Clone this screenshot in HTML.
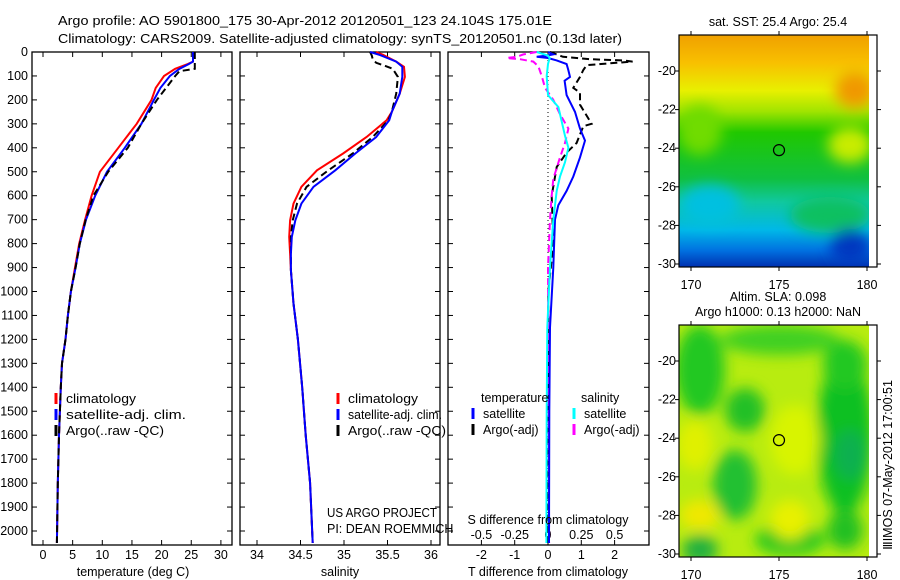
<!DOCTYPE html>
<html><head><meta charset="utf-8">
<style>
html,body{margin:0;padding:0;background:#fff;}
svg{display:block;font-family:"Liberation Sans",sans-serif;}
text{font-size:12.5px;fill:#000;}
</style></head>
<body>
<svg id="fig" width="900" height="580" viewBox="0 0 900 580">
<defs>
<filter id="blur6" x="-20%" y="-20%" width="140%" height="140%"><feGaussianBlur stdDeviation="7"/></filter>
<clipPath id="clipTop"><rect x="679" y="35" width="190" height="232"/></clipPath>
<clipPath id="clipBot"><rect x="679" y="325" width="190" height="232"/></clipPath>
<linearGradient id="sstGrad" x1="0" y1="0" x2="0" y2="1">
<stop offset="0" stop-color="#f0a000"/><stop offset="0.12" stop-color="#f8c000"/>
<stop offset="0.24" stop-color="#e8f000"/><stop offset="0.33" stop-color="#a0e400"/>
<stop offset="0.42" stop-color="#20c800"/><stop offset="0.62" stop-color="#10c040"/>
<stop offset="0.72" stop-color="#10c8a0"/><stop offset="0.84" stop-color="#00b8e8"/>
<stop offset="0.93" stop-color="#0070e0"/><stop offset="1" stop-color="#0030b0"/>
</linearGradient>
</defs>
<text x="58" y="25" textLength="494" lengthAdjust="spacingAndGlyphs">Argo profile: AO 5901800_175 30-Apr-2012 20120501_123 24.104S 175.01E</text>
<text x="58" y="43" textLength="564" lengthAdjust="spacingAndGlyphs">Climatology: CARS2009. Satellite-adjusted climatology: synTS_20120501.nc (0.13d later)</text>
<g id="plots"></g>
<g id="maps"></g>
</svg>
<script>
// ---- data ----
const depthT  = [0,40,50,70,100,150,200,300,400,500,600,700,800,900,1000,1100,1200,1300,1400,1600,1800,2050];
const tempClim = [25.3,25.3,24.4,22.3,20.4,19.0,18.3,15.8,12.7,9.6,8.2,7.1,6.1,5.4,4.7,4.2,3.8,3.2,3.0,2.7,2.5,2.35];
const tempSat  = [25.3,25.3,24.6,23.0,21.4,19.8,18.7,16.6,13.8,10.8,8.8,7.25,6.2,5.5,4.7,4.2,3.8,3.2,3.0,2.7,2.5,2.35];
const depthTA = [0,70,80,100,200,300,400,500,600,700,800,900,1000,1100,1200,1300,1400,1600,1800,2050];
const tempArgo = [25.6,25.6,23.0,22.3,19.2,16.6,14.3,11.0,8.5,7.2,6.2,5.5,4.7,4.2,3.8,3.2,3.0,2.7,2.5,2.35];

const depthS = [0,12,40,62,104,174,250,285,355,424,494,563,633,703,772,842,911,1050,1200,1400,1600,1800,2050];
const salClim = [35.37,35.45,35.6,35.69,35.7,35.64,35.55,35.49,35.26,34.99,34.69,34.51,34.42,34.38,34.37,34.38,34.39,34.42,34.47,34.52,34.56,34.61,34.64];
const salSat  = [35.3,35.41,35.6,35.67,35.67,35.64,35.55,35.52,35.37,35.13,34.9,34.65,34.51,34.44,34.40,34.39,34.39,34.42,34.47,34.52,34.56,34.61,34.64];
const depthSA = [0,15,30,45,55,70,104,174,250,285,355,424,494,563,633,703,772,842,911,1050,1200,1400,1600,1800,2050];
const salArgo = [35.3,35.32,35.33,35.37,35.45,35.56,35.62,35.6,35.55,35.51,35.33,35.1,34.82,34.57,34.46,34.41,34.39,34.39,34.39,34.42,34.47,34.52,34.56,34.61,34.64];

const depthD1 = [0,10,15,20,25,35,50,75,104,120,180,250,320,370,440,520,580,640,700,900,1150,1500,2050];
const tDiffSat = [0,0.16,-0.04,-0.34,0,0.26,0.56,0.61,0.66,0.5,0.56,0.81,0.96,1.11,0.96,0.76,0.56,0.31,0.21,0.16,0.06,0.04,0.03];
const depthD2 = [0,20,30,35,40,45,55,75,104,150,170,220,300,310,380,420,480,600,800,1000,1500,2050];
const tDiffArgo = [0.06,0.45,1.26,2.25,2.54,2.06,1.16,1.06,0.96,0.76,0.96,0.96,1.31,1.06,0.86,0.56,0.26,0.11,0.16,0.01,0.0,0.0];
const depthD3 = [0,15,25,50,100,180,230,290,350,400,460,520,580,700,900,1150,1500,2050];
const sDiffSat = [-0.085,0,0.0125,0,-0.01,0,0.078,0.103,0.128,0.153,0.128,0.09,0.065,0.04,0.015,-0.005,-0.01,-0.012];
const depthD4 = [0,10,20,25,30,40,60,100,150,200,260,320,380,440,530,600,700,900,1500,2050];
const sDiffArgo = [-0.085,-0.185,-0.235,-0.31,-0.21,-0.11,-0.072,-0.047,-0.022,0.04,0.09,0.153,0.128,0.09,0.04,0.028,0.015,0,0.005,0.008];

const depthTicks = [0,100,200,300,400,500,600,700,800,900,1000,1100,1200,1300,1400,1500,1600,1700,1800,1900,2000];
const tempTicks = [0,5,10,15,20,25,30];
const salTicks = ["34","34.5","35","35.5","36"];
const tdTicks = [-2,-1,0,1,2];
const sdTicks = ["-0.5","-0.25","0","0.25","0.5"];
const mapLon = [170,175,180];
const mapLat = [20,22,24,26,28,30];

// ---- helpers ----
const NS="http://www.w3.org/2000/svg";
const plots=document.getElementById('plots');
function mk(tag,attrs,parent,txt){const e=document.createElementNS(NS,tag);for(const k in attrs)e.setAttribute(k,attrs[k]);if(txt!==undefined)e.textContent=txt;(parent||plots).appendChild(e);return e;}
const top0=52, bot0=545;
const yD = d => top0 + d*0.2395;
const xT = v => 43 + v*5.93;
const xS = v => 257 + (v-34)*87;
const xTD = v => 548 + v*33.3;
const xSD = v => 548 + v*133.2;

function frame(x0,x1,name){
  const r=mk('rect',{x:x0,y:top0,width:x1-x0,height:bot0-top0,fill:'none',stroke:'#000','stroke-width':1.3});
  
  
  depthTicks.forEach(d=>{
    mk('line',{x1:x0,x2:x0+5,y1:yD(d),y2:yD(d),stroke:'#000'});
    mk('line',{x1:x1-5,x2:x1,y1:yD(d),y2:yD(d),stroke:'#000'});
  });
}
function series(xs,ds,fx,color,dash,name,w){
  const pts=xs.map((v,i)=>fx(v).toFixed(1)+','+yD(ds[i]).toFixed(1)).join(' ');
  const p=mk('polyline',{points:pts,fill:'none',stroke:color,'stroke-width':w||2,'stroke-dasharray':dash||'none'});
  
  
}
function xticks(vals,fx,labels,ly){
  vals.forEach((v,i)=>{
    const x=fx(+v);
    mk('line',{x1:x,x2:x,y1:bot0,y2:bot0-5,stroke:'#000'});
    mk('line',{x1:x,x2:x,y1:top0,y2:top0+5,stroke:'#000'});
    const t=mk('text',{x:x,y:ly,'text-anchor':'middle'},plots,labels[i]);
    
    
  });
}
function legend(x,y,items){
  items.forEach((it,i)=>{
    mk('line',{x1:x,x2:x,y1:y+i*16-5,y2:y+i*16+6,stroke:it[1],'stroke-width':3});
    const at={x:x+10,y:y+i*16+5};
    if(it[2]){at.textLength=it[2];at.lengthAdjust='spacingAndGlyphs';}
    const t=mk('text',at,plots,it[0]);
    
    
  });
}

// depth labels
depthTicks.forEach(d=>{
  const t=mk('text',{x:28,y:yD(d)+4,'text-anchor':'end'},plots,String(d));
  
  
});

const leg1=[['climatology','#f00',70],['satellite-adj. clim.','#00f',120],['Argo(..raw -QC)','#000',98]];

// panel 1
frame(32,232,'temperature-panel');
xticks(tempTicks,xT,tempTicks.map(String),559);
series(tempClim,depthT,xT,'#f00',null,'temp-climatology-line');
series(tempSat,depthT,xT,'#00f',null,'temp-satellite-line');
series(tempArgo,depthTA,xT,'#000','7,4','temp-argo-line');
let t=mk('text',{x:133,y:576,'text-anchor':'middle'},plots,'temperature (deg C)');

legend(56,398,leg1);

// panel 2
frame(240,440,'salinity-panel');
xticks(salTicks,xS,salTicks,559);
series(salClim,depthS,xS,'#f00',null,'sal-climatology-line');
series(salArgo,depthSA,xS,'#000','7,4','sal-argo-line');
series(salSat,depthS,xS,'#00f',null,'sal-satellite-line');
t=mk('text',{x:340,y:576,'text-anchor':'middle'},plots,'salinity');

legend(338,398,[['climatology','#f00',70],['satellite-adj. clim.','#00f',94],['Argo(..raw -QC)','#000',98]]);
t=mk('text',{x:327,y:517,textLength:110,lengthAdjust:'spacingAndGlyphs'},plots,'US ARGO PROJECT');
t=mk('text',{x:327,y:533},plots,'PI: DEAN ROEMMICH');

// panel 3
frame(448,649,'difference-panel');
xticks(tdTicks,xTD,tdTicks.map(String),559);
sdTicks.forEach((v,i)=>{const tt=mk('text',{x:xSD(+v),y:539,'text-anchor':'middle'},plots,v);});
mk('line',{x1:xTD(0),x2:xTD(0),y1:top0,y2:bot0,stroke:'#000','stroke-dasharray':'1,3'});
series(tDiffArgo,depthD2,xTD,'#000','7,4','tdiff-argo-line');
series(sDiffArgo,depthD4,xSD,'#f0f','7,4','sdiff-argo-line');
series(tDiffSat,depthD1,xTD,'#00f',null,'tdiff-satellite-line');
series(sDiffSat,depthD3,xSD,'#0ff',null,'sdiff-satellite-line');
t=mk('text',{x:548,y:524,'text-anchor':'middle'},plots,'S difference from climatology');
t=mk('text',{x:548,y:576,'text-anchor':'middle'},plots,'T difference from climatology');
t=mk('text',{x:481,y:402},plots,'temperature');
t=mk('text',{x:581,y:402},plots,'salinity');
legend(473,413,[['satellite','#00f'],['Argo(-adj)','#000']]);
legend(574,413,[['satellite','#0ff'],['Argo(-adj)','#f0f']]);

// ---- maps ----
const maps=document.getElementById('maps');
function map(y0,clip,fillFn,name,title){
  const g=mk('g',{'clip-path':'url(#'+clip+')'},maps);
  
  
  fillFn(g,y0);
  mk('rect',{x:869,y:y0,width:8,height:232,fill:'#fff'},maps);
  mk('rect',{x:679,y:y0,width:198,height:232,fill:'none',stroke:'#000','stroke-width':1.2},maps);
  const lx=v=>691+(v-170)*17.6, ly=v=>y0+36+(v-20)*19.3;
  mapLon.forEach(v=>{mk('line',{x1:lx(v),x2:lx(v),y1:y0,y2:y0-4,stroke:'#000'},maps);mk('line',{x1:lx(v),x2:lx(v),y1:y0+232,y2:y0+236,stroke:'#000'},maps);
    const tt=mk('text',{x:lx(v),y:y0+254,'text-anchor':'middle'},maps,String(v));});
  mapLat.forEach(v=>{mk('line',{x1:679,x2:675,y1:ly(v),y2:ly(v),stroke:'#000'},maps);mk('line',{x1:877,x2:881,y1:ly(v),y2:ly(v),stroke:'#000'},maps);
    const tt=mk('text',{x:676,y:ly(v)+4,'text-anchor':'end'},maps,'-'+v);});
  const c=mk('circle',{cx:lx(175),cy:ly(24.1),r:5.5,fill:'none',stroke:'#000','stroke-width':1.2},maps);
  
  const n=title.length;
  title.forEach((s,i)=>{const tt=mk('text',{x:778,y:y0-9-(n-1-i)*15,'text-anchor':'middle'},maps,s);});
}
map(35,'clipTop',(g,y0)=>{
  mk('rect',{x:679,y:y0,width:190,height:232,fill:'url(#sstGrad)'},g);
  const b=mk('g',{filter:'url(#blur6)'},g);
  mk('ellipse',{cx:700,cy:y0+95,rx:22,ry:25,fill:'#70dc00'},b);
  mk('ellipse',{cx:850,cy:y0+110,rx:22,ry:18,fill:'#c8ec00'},b);
  mk('ellipse',{cx:855,cy:y0+55,rx:20,ry:18,fill:'#f09800'},b);
  mk('ellipse',{cx:830,cy:y0+180,rx:40,ry:18,fill:'#10c060'},b);
  mk('ellipse',{cx:710,cy:y0+170,rx:30,ry:20,fill:'#00c0e0'},b);
  mk('ellipse',{cx:850,cy:y0+212,rx:20,ry:18,fill:'#0038c0'},b);
},'sst-map',['sat. SST: 25.4 Argo: 25.4']);
map(325,'clipBot',(g,y0)=>{
  mk('rect',{x:679,y:y0,width:190,height:232,fill:'#b8ec10'},g);
  const b=mk('g',{filter:'url(#blur6)'},g);
  [[700,y0+45,25,45,'#20c820'],[780,y0+15,60,15,'#40d020'],[845,y0+110,28,80,'#10c020'],[850,y0+130,16,25,'#10b050'],
   [745,y0+85,20,22,'#20c028'],[735,y0+160,22,35,'#20c030'],[790,y0+215,35,15,'#20c820'],[700,y0+225,18,15,'#20b040'],
   [845,y0+40,22,25,'#20c820'],[845,y0+205,18,20,'#20c020'],[695,y0+120,18,25,'#e0f000'],[790,y0+195,20,20,'#e8f000'],[795,y0+115,25,35,'#d8f400'],[700,y0+190,20,15,'#f0e800']]
   .forEach(e=>mk('ellipse',{cx:e[0],cy:e[1],rx:e[2],ry:e[3],fill:e[4]},b));
},'sla-map',['Altim. SLA: 0.098','Argo h1000: 0.13 h2000: NaN']);
t=mk('text',{x:0,y:0,transform:'translate(892,465) rotate(-90)','text-anchor':'middle'},maps,'\u2162IMOS 07-May-2012 17:00:51');

</script>
</body></html>
